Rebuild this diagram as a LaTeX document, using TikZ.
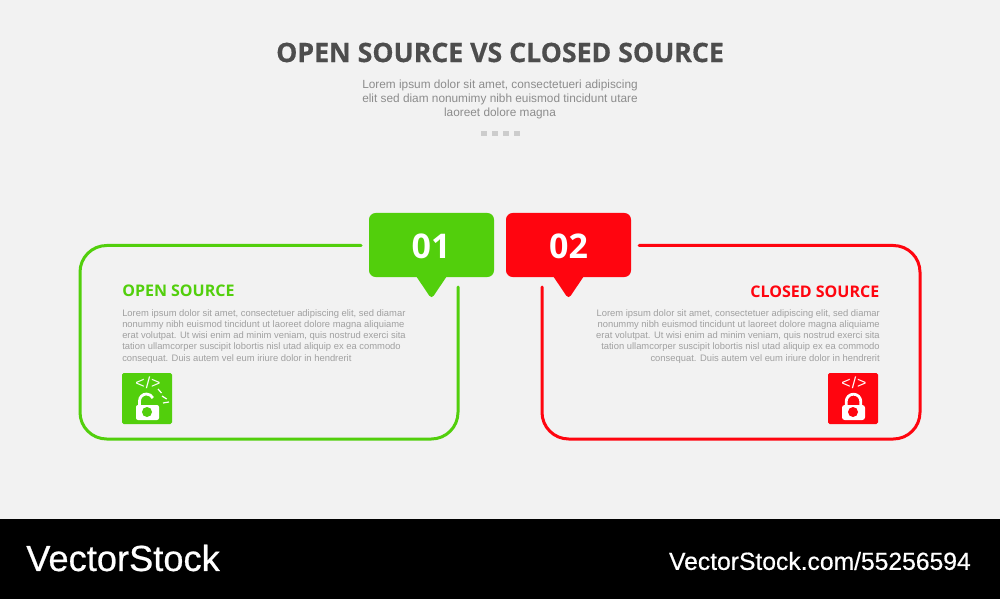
\documentclass[tikz,border=0pt]{standalone}
\usepackage{fontspec}
\setmainfont{Open Sans}
\newfontfamily\bodyfont{Liberation Sans}
\newfontfamily\wmfont[FakeBold=0.6]{Liberation Sans}
\newfontfamily\titlefont[BoldFeatures={FakeBold=0.5}]{Open Sans}
\definecolor{bg}{HTML}{F2F2F2}
\definecolor{grn}{HTML}{52CF0C}
\definecolor{rd}{HTML}{FF050F}
\definecolor{ttl}{HTML}{4D4D4D}
\definecolor{bodyc}{HTML}{8C8C8C}
\definecolor{smallc}{HTML}{A0A0A0}
\definecolor{dotc}{HTML}{CCCCCC}
\tikzset{
 frame/.style={line width=2.25pt,line cap=round,rounded corners=20pt},
 bubble/.style={rounded corners=5pt},
 tailshape/.style={rounded corners=3pt},
 numlabel/.style={text=white,font=\fontsize{25.5pt}{28pt}\selectfont\bfseries,inner sep=0pt},
 headlabel/.style={font=\fontsize{12pt}{14pt}\selectfont\bfseries,inner sep=0pt},
 para/.style={font=\bodyfont\fontsize{7.05pt}{8.44pt}\selectfont,text=smallc,inner sep=0pt},
 sub/.style={font=\bodyfont\fontsize{8.87pt}{10.5pt}\selectfont,text=bodyc,inner sep=0pt,align=center},
 iconcode/.style={text=white,font=\bodyfont\fontsize{12pt}{12pt}\selectfont\addfontfeature{LetterSpace=6},inner sep=0pt},
 wm/.style={text=white,inner sep=0pt}
}
\begin{document}
\begin{tikzpicture}[x=0.75pt,y=-0.75pt]
\useasboundingbox (0,0) rectangle (1000,599);
\fill[bg] (0,0) rectangle (1000,519);
\fill[black] (0,519) rectangle (1000,599);
% title
\node[inner sep=0pt,text=ttl,font=\titlefont\fontsize{20pt}{24pt}\selectfont\bfseries] (title) at (500,52.5) {OPEN SOURCE VS CLOSED SOURCE};
\node[sub] (subt) at (500,99.5) {Lorem ipsum dolor sit amet, consectetueri adipiscing\\elit sed diam nonumimy nibh euismod tincidunt utare\\laoreet dolore magna};
\foreach \x in {481,492,503,514} \fill[dotc] (\x,131) rectangle +(5.5,5.5);
% frames
\draw[frame,grn] (361,245.5) -- (80,245.5) -- (80,439) -- (458,439) -- (458,287);
\draw[frame,rd] (639,245.5) -- (920,245.5) -- (920,439) -- (542,439) -- (542,287);
% bubbles
\fill[grn,bubble] (369,213) -- (494,213) -- (494,277) -- (369,277) -- cycle;
\fill[grn,tailshape] (412,270) -- (451,270) -- (431.5,299) -- cycle;
\fill[rd,bubble] (506,213) -- (631,213) -- (631,277) -- (506,277) -- cycle;
\fill[rd,tailshape] (549,270) -- (588,270) -- (568.5,299) -- cycle;
\node[numlabel] (n1) at (431,246) {01};
\node[numlabel] (n2) at (568.5,246) {02};
% headings
\node[headlabel,text=grn,anchor=west] (h1) at (122,290.5) {OPEN SOURCE};
\node[headlabel,text=rd,anchor=east] (h2) at (879.5,291.5) {CLOSED SOURCE};
% paragraphs
\node[para,align=left,anchor=north west] (p1) at (122,309) {Lorem ipsum dolor sit amet, consectetuer adipiscing elit, sed diamar\\nonummy nibh euismod tincidunt ut laoreet dolore magna aliquiame\\erat volutpat. Ut wisi enim ad minim veniam, quis nostrud exerci sita\\tation ullamcorper suscipit lobortis nisl utad aliquip ex ea commodo\\consequat. Duis autem vel eum iriure dolor in hendrerit};
\node[para,align=right,anchor=north east] (p2) at (880,309) {Lorem ipsum dolor sit amet, consectetuer adipiscing elit, sed diamar\\nonummy nibh euismod tincidunt ut laoreet dolore magna aliquiame\\erat volutpat. Ut wisi enim ad minim veniam, quis nostrud exerci sita\\tation ullamcorper suscipit lobortis nisl utad aliquip ex ea commodo\\consequat. Duis autem vel eum iriure dolor in hendrerit};
% green icon
\fill[grn,rounded corners=1.2pt] (122,373) rectangle (172,424);
\node[iconcode] (c1) at (148,382.5) {</>};
\fill[white,rounded corners=1.5pt] (136,405) rectangle (159,420);
\draw[white,line width=2.1pt] (139.5,406) -- (139.5,401) arc[start angle=180,end angle=335,radius=7];
\fill[grn] (147,412) circle (5);
\draw[white,line width=0.9pt] (158,389) -- (161.5,393) (162,396) -- (166.7,399) (163,403) -- (169,402);
% red icon
\fill[rd,rounded corners=1.2pt] (828,373) rectangle (878,424);
\node[iconcode] (c2) at (854,382.5) {</>};
\fill[white,rounded corners=2pt] (842,405) rectangle (865,420);
\draw[white,line width=2.1pt] (846.2,406) -- (846.2,401.5) arc[start angle=180,end angle=360,radius=7.3] -- (860.8,406);
\fill[rd] (853,412) circle (5);
% footer
\node[wm,anchor=west,font=\wmfont\fontsize{27.2pt}{28pt}\selectfont] (w1) at (26,558) {VectorStock};
\node[wm,anchor=east,font=\wmfont\fontsize{18.5pt}{20pt}\selectfont] (w2) at (971,561) {VectorStock.com/55256594};
\end{tikzpicture}
\end{document}
